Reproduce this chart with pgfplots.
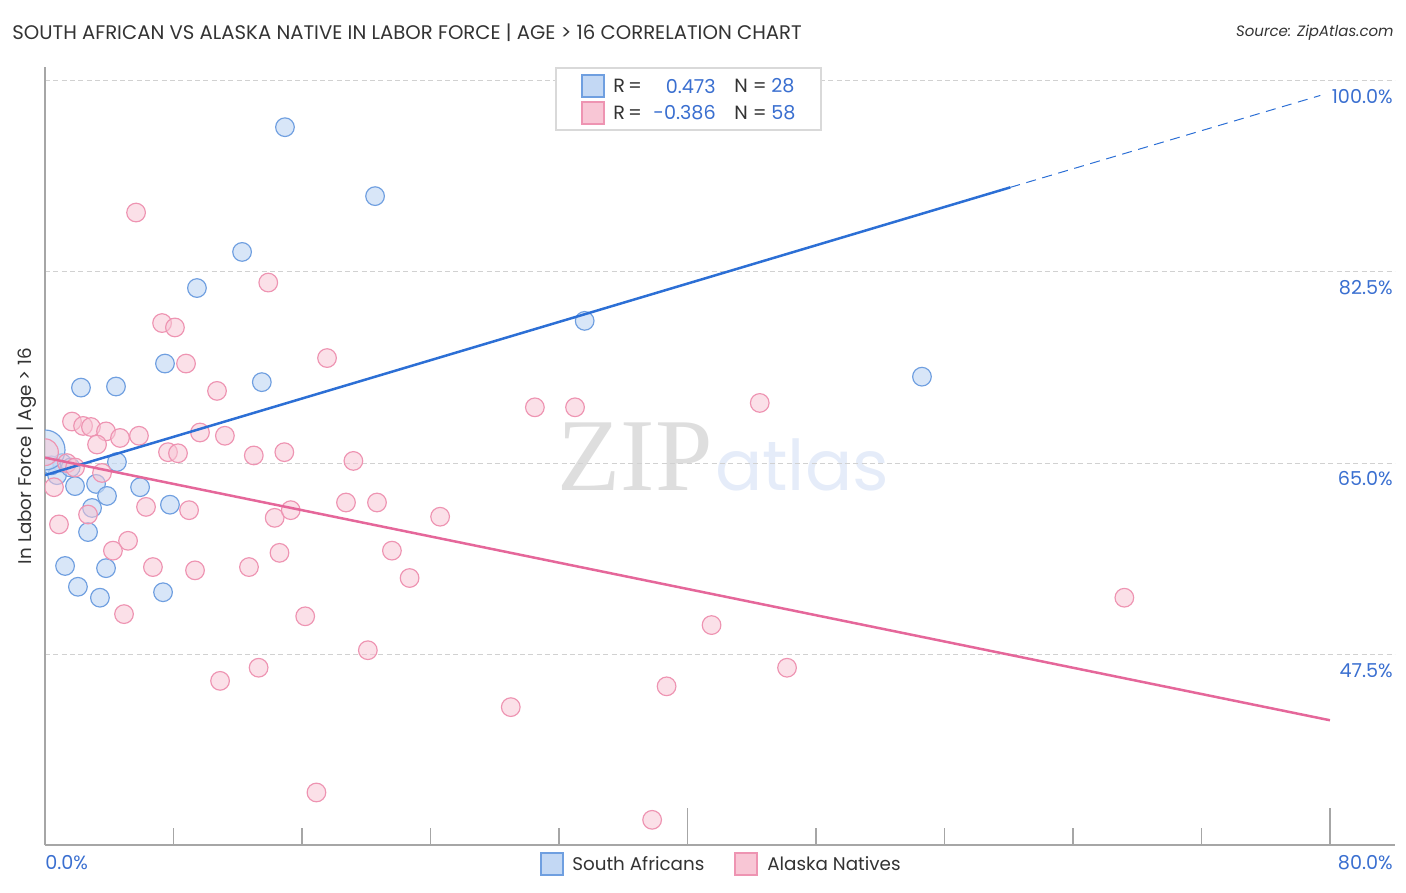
\documentclass[border=0pt]{standalone}
\usepackage{fontspec}
\setmainfont{Poppins}
\newfontfamily\wmserif{Liberation Serif}
\usepackage{pgfplots}
\pgfplotsset{compat=1.18}

\definecolor{bluefill}{HTML}{C3D8F4}
\definecolor{blueedge}{HTML}{6F9FE0}
\definecolor{pinkfill}{HTML}{F8C6D5}
\definecolor{pinkedge}{HTML}{EE94B2}
\definecolor{blueline}{HTML}{2C6FD5}
\definecolor{pinkline}{HTML}{E5679A}
\definecolor{valblue}{HTML}{3A6FD0}
\definecolor{titlegray}{HTML}{333333}

\begin{document}
\begin{tikzpicture}[x=0.6pt,y=0.6pt, every node/.append style={inner sep=0pt}]
\useasboundingbox (0,0) rectangle (1406,892);

% watermark
\node[font=\wmserif\fontsize{62pt}{62pt}\selectfont, text=black!13, anchor=base] at (635,402) {ZIP};
\node[font=\fontsize{42pt}{42pt}\selectfont, text=valblue!13, anchor=base] at (802,402) {atlas};

\begin{axis}[
  at={(27pt,28.2pt)}, anchor=south west,
  scale only axis, width=810pt, height=466.8pt,
  xmin=0, xmax=84.05, ymin=30.1, ymax=101.2,
  axis lines=left,
  axis line style={-, draw=black!35, line width=0.9pt},
  xtick={8,16,24,32,48,56,64,72}, xticklabels={},
  extra x ticks={40,80}, extra x tick labels={},
  extra x tick style={major tick length=22.2pt},
  tick align=inside,
  major tick length=10.5pt,
  x tick style={draw=black!35, line width=0.7pt},
  ytick={47.5,65,82.5,100}, yticklabels={},
  y tick style={draw=none},
  ymajorgrids, grid style={densely dashed, draw=black!18, line width=0.5pt},
  clip marker paths=true,
]
% South Africans
\addplot[only marks, mark=*, mark size=5.6pt,
  mark options={fill=bluefill, draw=blueedge, fill opacity=0.65, line width=0.7pt}]
coordinates {
(14.94,95.7) (20.55,89.4) (12.27,84.3) (9.46,81.0) (33.6,78.0) (54.6,72.9)
(7.47,74.1) (13.5,72.4) (2.24,71.9) (4.42,72.0) (4.48,65.1) (1.06,65.0)
(0.75,63.9) (1.87,62.9) (3.18,63.1) (3.86,62.0) (5.92,62.8) (7.78,61.2)
(2.93,60.9) (2.68,58.7) (1.25,55.6) (3.80,55.4) (2.05,53.7) (3.42,52.7)
(7.35,53.2) (0.4,64.8) (1.6,64.6)
};
\addplot[only marks, mark=*, mark size=12pt,
  mark options={fill=bluefill, draw=blueedge, fill opacity=0.6, line width=0.7pt}]
coordinates {(0,66.2)};
% Alaska Natives
\addplot[only marks, mark=*, mark size=5.6pt,
  mark options={fill=pinkfill, draw=pinkedge, fill opacity=0.55, line width=0.7pt}]
coordinates {
(5.67,87.9) (13.9,81.5) (7.29,77.8) (8.09,77.4) (17.56,74.6) (8.78,74.1)
(10.71,71.6) (30.5,70.1) (33.0,70.1) (44.5,70.5) (1.68,68.8) (2.37,68.4)
(2.86,68.3) (3.80,67.9) (4.67,67.3) (5.85,67.5) (3.24,66.7) (9.65,67.8)
(11.2,67.5) (7.66,66.0) (8.28,65.9) (13.0,65.7) (14.9,66.0) (19.2,65.2)
(1.37,65.0) (1.87,64.6) (3.55,64.1) (0.56,62.8) (6.29,61.0) (8.97,60.7)
(2.68,60.3) (0.87,59.4) (14.3,60.0) (15.3,60.7) (18.74,61.4) (20.67,61.4)
(24.6,60.1) (5.17,57.9) (4.23,57.0) (14.6,56.8) (21.6,57.0) (6.72,55.5)
(9.34,55.2) (12.7,55.5) (22.7,54.5) (4.92,51.2) (16.2,51.0) (67.2,52.7)
(41.5,50.2) (20.1,47.9) (13.3,46.3) (10.9,45.1) (46.2,46.3) (38.7,44.6)
(29.0,42.7) (16.9,34.9) (37.8,32.4)
};
\addplot[only marks, mark=*, mark size=8pt,
  mark options={fill=pinkfill, draw=pinkedge, fill opacity=0.5, line width=0.7pt}]
coordinates {(0,66.0)};
% trend lines
\addplot[blueline, line width=1.5pt] coordinates {(0,63.9) (60.1,90.2)};
\addplot[blueline, line width=0.6pt, dash pattern=on 6pt off 4pt] coordinates {(60.1,90.2) (79.4,98.6)};
\addplot[pinkline, line width=1.5pt] coordinates {(0,65.5) (80,41.5)};
\end{axis}

% title and source
\node[anchor=west, font=\fontsize{11.8pt}{11.8pt}\selectfont, text=titlegray] at (12,859)
  {SOUTH AFRICAN VS ALASKA NATIVE IN LABOR FORCE | AGE > 16 CORRELATION CHART};
\node[anchor=east, font=\fontsize{9pt}{9pt}\selectfont\itshape, text=titlegray] at (1394,859)
  {Source: ZipAtlas.com};

% y axis label
\node[rotate=90, font=\fontsize{11pt}{11pt}\selectfont, text=titlegray] at (27,436)
  {In Labor Force | Age > 16};

% y tick labels
\foreach \yy/\lab in {795/100.0\%, 604/82.5\%, 413/65.0\%, 221/47.5\%}
  \node[anchor=east, font=\fontsize{11.5pt}{11.5pt}\selectfont, text=valblue] at (1393,\yy) {\lab};
% x tick labels
\node[anchor=west, font=\fontsize{11.5pt}{11.5pt}\selectfont, text=valblue] at (45,29) {0.0\%};
\node[anchor=east, font=\fontsize{11.5pt}{11.5pt}\selectfont, text=valblue] at (1393,29) {80.0\%};

% top legend
\filldraw[fill=white, draw=black!15, line width=0.7pt] (556,762) rectangle (821,824);
\filldraw[fill=bluefill, draw=blueedge, line width=0.7pt] (582,795) rectangle (604,817);
\filldraw[fill=pinkfill, draw=pinkedge, line width=0.7pt] (582,768) rectangle (604,790);
\begin{scope}[every node/.append style={font=\fontsize{11.5pt}{11.5pt}\selectfont}]
\node[anchor=west, text=titlegray] at (613,806) {R\,=};
\node[anchor=east, text=valblue] at (716,806) {0.473};
\node[anchor=west, text=titlegray] at (734,806) {N =};
\node[anchor=west, text=valblue] at (771,806) {28};
\node[anchor=west, text=titlegray] at (613,779) {R\,=};
\node[anchor=east, text=valblue] at (716,779) {-0.386};
\node[anchor=west, text=titlegray] at (734,779) {N =};
\node[anchor=west, text=valblue] at (771,779) {58};
\end{scope}

% bottom legend
\filldraw[fill=bluefill, draw=blueedge, line width=0.7pt] (541,17) rectangle (563,39);
\node[anchor=west, font=\fontsize{11pt}{11pt}\selectfont, text=titlegray] at (572,28) {South Africans};
\filldraw[fill=pinkfill, draw=pinkedge, line width=0.7pt] (735,17) rectangle (757,39);
\node[anchor=west, font=\fontsize{11pt}{11pt}\selectfont, text=titlegray] at (767,28) {Alaska Natives};
\end{tikzpicture}
\end{document}
